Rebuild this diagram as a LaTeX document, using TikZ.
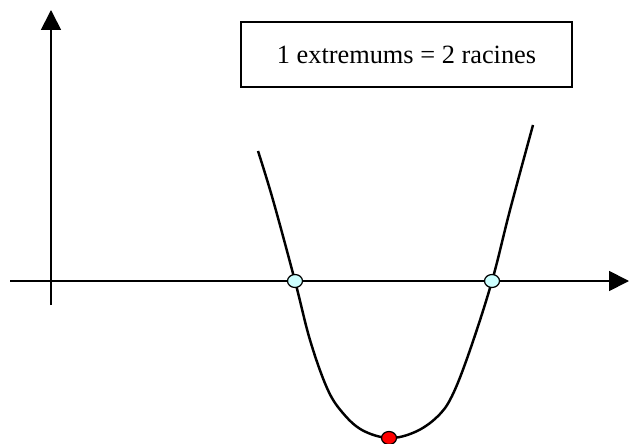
\documentclass[tikz,border=0pt]{standalone}
\usepackage{fontspec}
\setmainfont{Liberation Serif}
\usetikzlibrary{arrows.meta,shapes.geometric}
\definecolor{rootcyan}{HTML}{CCFFFF}
\definecolor{minred}{HTML}{FF0000}

\begin{document}
\begin{tikzpicture}[x=0.02cm, y=0.02cm,
    axis/.style={line width=1pt, -{Triangle[length=0.4cm, width=0.4cm]}},
    dot/.style={ellipse, draw, line width=0.7pt, inner sep=0pt, minimum width=0.3cm, minimum height=0.26cm}]
    \useasboundingbox (0,0) rectangle (631,443);
    % axes
    \coordinate (xstart) at (10,162);
    \coordinate (xend) at (629,162);
    \coordinate (ystart) at (51,138);
    \coordinate (yend) at (51,433);
    \draw[axis] (xstart) -- (xend);
    \draw[axis] (ystart) -- (yend);
    % curve
    \draw[line width=1.4pt] plot[smooth, tension=0.6] coordinates {(258,292) (273,243) (295,162) (310,103) (327,55) (342,31) (362,13) (389,5) (415,11) (437,26) (452,47) (470,93) (492,162) (510,233) (533,318)};
    % roots and minimum
    \node[dot, fill=rootcyan] (rootA) at (295,162) {};
    \node[dot, fill=rootcyan] (rootB) at (492,162) {};
    \node[dot, fill=minred] (vmin) at (389,5) {};
    % label
    \node[draw, line width=0.8pt, minimum width=6.62cm, minimum height=1.3cm, font=\fontsize{15}{18}\selectfont] (note) at (406.5,388.5) {1 extremums = 2 racines};
\end{tikzpicture}
\end{document}
